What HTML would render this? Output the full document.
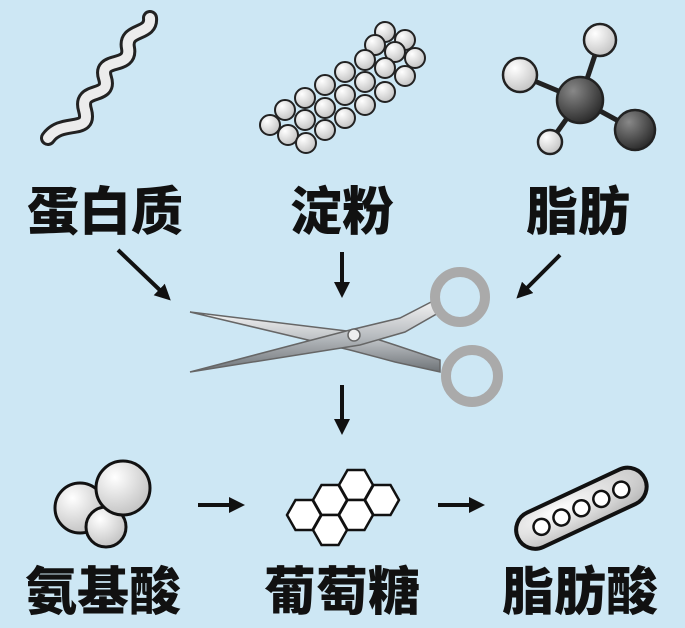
<!DOCTYPE html>
<html><head><meta charset="utf-8"><style>
html,body{margin:0;padding:0;background:#cde7f4;}
svg{display:block}
text{font-family:"Liberation Sans","Noto Sans CJK SC",sans-serif;font-weight:900;fill:#111;text-anchor:middle}
</style></head><body>
<svg width="685" height="628" viewBox="0 0 685 628">
<defs>
<radialGradient id="w" cx="0.35" cy="0.3" r="0.8"><stop offset="0" stop-color="#fff"/><stop offset="1" stop-color="#bdbdbd"/></radialGradient>
<radialGradient id="d" cx="0.35" cy="0.3" r="0.8"><stop offset="0" stop-color="#888"/><stop offset="1" stop-color="#222"/></radialGradient>
<linearGradient id="m" x1="0" y1="0" x2="0" y2="1"><stop offset="0" stop-color="#f4f4f4"/><stop offset="0.5" stop-color="#b8bcc0"/><stop offset="1" stop-color="#6d7276"/></linearGradient>
<marker id="a" markerWidth="4" markerHeight="4" refX="2" refY="2" orient="auto" markerUnits="strokeWidth"><path d="M0,0 L4,2 L0,4z" fill="#111"/></marker>
<path id="h" d="M-17,0 l8.5,-15 h17 l8.5,15 l-8.5,15 h-17z"/>
</defs>
<rect width="685" height="628" fill="#cde7f4"/>
<!-- helix -->
<path d="M48,138 C62,118 92,135 85,110 C78,86 112,100 105,78 C98,56 132,70 128,48 C124,28 152,36 150,18" fill="none" stroke="#222" stroke-width="16" stroke-linecap="round"/>
<path d="M48,138 C62,118 92,135 85,110 C78,86 112,100 105,78 C98,56 132,70 128,48 C124,28 152,36 150,18" fill="none" stroke="#ececec" stroke-width="10" stroke-linecap="round"/>
<!-- starch -->
<g stroke="#222" stroke-width="2" fill="url(#w)">
<circle cx="405" cy="40" r="10"/><circle cx="385" cy="32" r="10"/><circle cx="415" cy="58" r="10"/><circle cx="395" cy="52" r="10"/><circle cx="375" cy="45" r="10"/><circle cx="365" cy="60" r="10"/><circle cx="385" cy="68" r="10"/><circle cx="405" cy="76" r="10"/><circle cx="345" cy="72" r="10"/><circle cx="365" cy="82" r="10"/><circle cx="385" cy="92" r="10"/><circle cx="325" cy="85" r="10"/><circle cx="345" cy="95" r="10"/><circle cx="365" cy="105" r="10"/><circle cx="305" cy="98" r="10"/><circle cx="325" cy="108" r="10"/><circle cx="345" cy="118" r="10"/><circle cx="285" cy="110" r="10"/><circle cx="305" cy="120" r="10"/><circle cx="325" cy="130" r="10"/><circle cx="270" cy="125" r="10"/><circle cx="288" cy="135" r="10"/><circle cx="306" cy="143" r="10"/>
</g>
<!-- molecule -->
<g stroke="#222" stroke-width="5"><line x1="580" y1="100" x2="600" y2="40"/><line x1="580" y1="100" x2="520" y2="75"/><line x1="580" y1="100" x2="550" y2="142"/><line x1="580" y1="100" x2="635" y2="130"/></g>
<g stroke="#222" stroke-width="2.5"><circle cx="600" cy="40" r="16" fill="url(#w)"/><circle cx="520" cy="75" r="17" fill="url(#w)"/><circle cx="550" cy="142" r="12" fill="url(#w)"/><circle cx="580" cy="100" r="23" fill="url(#d)"/><circle cx="635" cy="130" r="20" fill="url(#d)"/></g>
<text x="105" y="230" font-size="52">蛋白质</text>
<text x="342" y="230" font-size="52">淀粉</text>
<text x="578" y="230" font-size="52">脂肪</text>
<g stroke="#111" stroke-width="4" marker-end="url(#a)">
<line x1="118" y1="250" x2="165" y2="295"/><line x1="342" y1="252" x2="342" y2="290"/><line x1="560" y1="255" x2="522" y2="293"/><line x1="342" y1="385" x2="342" y2="427"/><line x1="198" y1="505" x2="237" y2="505"/><line x1="438" y1="505" x2="477" y2="505"/>
</g>
<!-- scissors -->
<g stroke="#666" stroke-width="1.5" fill="url(#m)">
<path d="M190,312 L355,332 L395,345 L440,360 L440,372 L395,362 L350,350z"/>
<path d="M190,372 L350,330 L400,318 L435,300 L440,312 L405,332 L360,345z"/>
<circle cx="460" cy="297" r="25" fill="none" stroke="#aaa" stroke-width="10"/>
<circle cx="472" cy="376" r="26" fill="none" stroke="#aaa" stroke-width="10"/>
<circle cx="354" cy="335" r="6" fill="#eee"/>
</g>
<!-- amino -->
<g stroke="#111" stroke-width="3" fill="url(#w)"><circle cx="80" cy="508" r="25"/><circle cx="106" cy="527" r="20"/><circle cx="123" cy="488" r="27"/></g>
<!-- hexagons -->
<g stroke="#111" stroke-width="2.5" fill="#fff">
<use href="#h" x="356" y="485"/>
<use href="#h" x="330" y="500"/>
<use href="#h" x="382" y="500"/>
<use href="#h" x="304" y="515"/>
<use href="#h" x="356" y="515"/>
<use href="#h" x="330" y="530"/>
</g>
<!-- fatty acid -->
<g transform="rotate(-25 580 510)">
<rect x="512" y="490" width="140" height="38" rx="19" fill="url(#w)" stroke="#111" stroke-width="4"/>
<g stroke="#111" stroke-width="2.5" fill="#fff"><circle cx="538" cy="509" r="8"/><circle cx="560" cy="509" r="8"/><circle cx="582" cy="509" r="8"/><circle cx="604" cy="509" r="8"/><circle cx="626" cy="509" r="8"/></g>
</g>
<text x="103" y="610" font-size="52">氨基酸</text>
<text x="342" y="610" font-size="52">葡萄糖</text>
<text x="580" y="610" font-size="52">脂肪酸</text>
</svg>
</body></html>
